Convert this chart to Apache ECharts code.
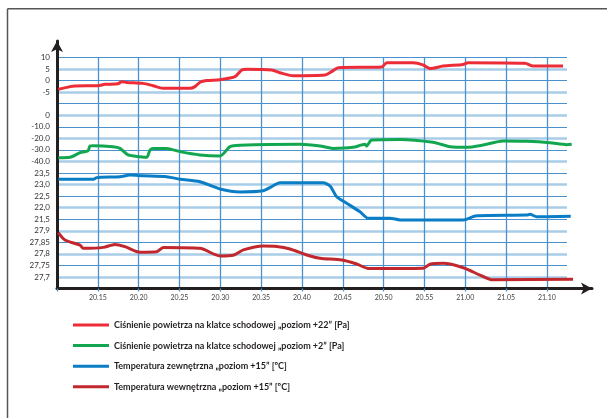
<!DOCTYPE html>
<html>
<head>
<meta charset="utf-8">
<script src="https://cdn.jsdelivr.net/npm/echarts@6/dist/echarts.min.js"></script>
<style>
html,body{margin:0;padding:0;background:#fff;}
#chart{width:607px;height:418px;}
</style>
</head>
<body>
<div id="chart"></div>
<script>
// time in minutes after 20:00
const xTickLabels = ['20.15','20.20','20.25','20.30','20.35','20.40','20.45','20.50','20.55','21.00','21.05','21.10'];

const seriesNames = [
  'Ciśnienie powietrza na klatce schodowej „poziom +22” [Pa]',
  'Ciśnienie powietrza na klatce schodowej „poziom +2” [Pa]',
  'Temperatura zewnętrzna „poziom +15” [ºC]',
  'Temperatura wewnętrzna „poziom +15” [ºC]'
];

const p22Time = [10.16,11.59,12.2,15.02,15.88,17.47,17.92,18.54,20.53,21.76,22.98,26.29,26.9,27.51,28.33,29.96,31.8,32.62,33.23,36.3,37.31,38.9,42.82,43.64,44.45,49.77,50.38,53.6,54.82,55.68,57.28,59.73,60.34,67.32,68.3,71.97];
const p22Val  = [-3.8,-2.6,-2.3,-2.2,-1.6,-1.4,-0.5,-0.8,-1.2,-2.2,-3.3,-3.3,-2.6,-0.7,0.0,0.4,1.7,4.6,4.9,4.6,3.4,2.1,2.4,3.9,5.6,5.9,7.7,7.7,6.8,5.2,6.3,7.0,7.75,7.5,6.3,6.3];

const p2Time = [10.16,11.59,12.82,13.8,14.04,14.45,16.86,17.72,18.7,20.17,20.99,21.39,21.79,23.43,25.06,27.51,29.96,31.19,32.41,39.76,42.21,43.8,46.25,47.72,47.93,48.54,52.01,56.05,58.13,60.18,62.17,64.62,67.53,70.38,72.43,73.04];
const p2Val  = [-36.8,-36.4,-32.4,-30.7,-26.6,-26.3,-27.2,-28.7,-34.4,-35.9,-36.4,-30.1,-28.7,-28.7,-31.5,-34.4,-35.3,-27.2,-26.0,-25.2,-26.6,-28.7,-27.8,-25.2,-26.6,-21.4,-20.9,-23.4,-27.2,-27.8,-25.8,-22.3,-22.6,-23.8,-25.5,-25.2];

const tExtTime = [10.16,14.45,14.86,17.72,18.94,20.53,23.43,25.06,27.51,29.96,32.41,35.23,36.3,37.31,42.58,43.44,44.26,45.48,47.11,48.13,50.78,52.01,59.72,61.4,67.53,67.93,68.75,72.92];
const tExtVal  = [23.23,23.23,23.3,23.34,23.41,23.38,23.34,23.23,23.12,22.81,22.68,22.73,22.91,23.08,23.08,22.94,22.47,22.19,21.82,21.54,21.54,21.47,21.47,21.65,21.68,21.71,21.61,21.63];

const tIntTime = [10.16,10.98,12.82,13.22,15.67,17.1,18.33,20.17,22.21,23.02,27.51,29.96,31.59,32.82,35.27,36.91,38.54,40.58,42.21,44.87,46.71,48.13,52.01,54.86,55.68,57.31,59.76,61.81,63.24,73.2];
const tIntVal  = [27.892,27.86,27.838,27.824,27.828,27.841,27.831,27.807,27.809,27.828,27.824,27.791,27.794,27.817,27.834,27.832,27.821,27.795,27.781,27.773,27.756,27.737,27.737,27.738,27.755,27.759,27.74,27.708,27.688,27.69];

const colors = ['#ec2d37','#13a650','#0a7dc5','#c1272d'];

function zip(a,b){return a.map((t,i)=>[t,b[i]]);}

const X0 = 57;            // y-axis pixel
const PX_PER_MIN = 8.165;
const TOP = 57.5;
const STEP = 11.55;       // px between horizontal grid lines
const FONT = 'Lato, "Open Sans", sans-serif';

function rowY(i){return TOP + i*STEP;}
const dataWidth = (75-10)*PX_PER_MIN;

const chart = echarts.init(document.getElementById('chart'), null, {renderer:'canvas'});

const grids = [
  {left:X0, top:rowY(0), width:510, height:20*STEP},
  {left:X0, top:rowY(1), width:510, height:18*STEP},
  {left:X0, top:rowY(0), width:(70-10)*PX_PER_MIN, height:20*STEP},
  {left:X0, top:41, width:592-X0, height:rowY(20)-41},
  {left:X0, top:rowY(0), width:dataWidth, height:4*STEP},
  {left:X0, top:rowY(5), width:dataWidth, height:4*STEP},
  {left:X0, top:rowY(10), width:dataWidth, height:4*STEP},
  {left:X0, top:rowY(15), width:dataWidth, height:5*STEP}
];

const hiddenX = (gi)=>({type:'value', gridIndex:gi, min:10, max:75, show:false});

const yLabelStyle = {fontSize:8, color:'#333', fontFamily:FONT, margin:7};

const option = {
  animation:false,
  backgroundColor:'#fff',
  grid: grids,
  graphic: [
    {type:'line', shape:{x1:7.5,y1:8.7,x2:607,y2:8.7}, style:{stroke:'#555', lineWidth:1.5}, z:100},
    {type:'line', shape:{x1:7.5,y1:8.7,x2:7.5,y2:418}, style:{stroke:'#555', lineWidth:1.5}, z:100}
  ],
  legend: {
    orient:'vertical', left:68, top:314,
    itemWidth:36, itemHeight:3, itemGap:8.6, icon:'rect',
    textStyle:{fontSize:9, fontWeight:'bold', color:'#231f20', fontFamily:FONT, lineHeight:12},
    data: seriesNames
  },
  xAxis: [
    {type:'value', gridIndex:0, min:0, max:1, show:false},
    {type:'value', gridIndex:1, min:0, max:1, show:false},
    {type:'value', gridIndex:2, min:10, max:70, interval:5,
      axisLine:{show:false},
      axisTick:{show:true, length:3, lineStyle:{color:'#4a92cf', width:1.3}},
      splitLine:{show:true, showMinLine:false, lineStyle:{color:'#4a92cf', width:1.3}},
      axisLabel:{fontSize:7, color:'#444', fontFamily:FONT, margin:6,
        formatter:(v)=>{const i=Math.round((v-15)/5); return (i>=0 && i<xTickLabels.length)?xTickLabels[i]:'';}}
    },
    {type:'value', gridIndex:3, min:0, max:1,
      axisLine:{show:true, symbol:['none','arrow'], symbolSize:[9,11], lineStyle:{color:'#231f20', width:3}},
      axisTick:{show:false}, axisLabel:{show:false}, splitLine:{show:false}
    },
    hiddenX(4), hiddenX(5), hiddenX(6), hiddenX(7)
  ],
  yAxis: [
    {type:'value', gridIndex:0, min:0, max:20, interval:2,
      axisLine:{show:false}, axisTick:{show:false}, axisLabel:{show:false},
      splitLine:{show:true, lineStyle:{color:'#4a92cf', width:1.2}}},
    {type:'value', gridIndex:1, min:0, max:18, interval:2,
      axisLine:{show:false}, axisTick:{show:false}, axisLabel:{show:false},
      splitLine:{show:true, lineStyle:{color:'#a8cde7', width:2.6}}},
    {type:'value', gridIndex:2, min:0, max:1, show:false},
    {type:'value', gridIndex:3, min:0, max:1,
      axisLine:{show:true, symbol:['none','arrow'], symbolSize:[9,11], lineStyle:{color:'#231f20', width:3}},
      axisTick:{show:false}, axisLabel:{show:false}, splitLine:{show:false}},
    {type:'value', gridIndex:4, min:-10, max:10, interval:5,
      axisLine:{show:false}, axisTick:{show:false}, splitLine:{show:false},
      axisLabel:Object.assign({}, yLabelStyle, {formatter:(v)=> v===-10 ? '' : String(v)})},
    {type:'value', gridIndex:5, min:-40, max:0, interval:10,
      axisLine:{show:false}, axisTick:{show:false}, splitLine:{show:false},
      axisLabel:Object.assign({}, yLabelStyle, {formatter:(v)=> v===0 ? '0' : v.toFixed(1)})},
    {type:'value', gridIndex:6, min:21.5, max:23.5, interval:0.5,
      axisLine:{show:false}, axisTick:{show:false}, splitLine:{show:false},
      axisLabel:Object.assign({}, yLabelStyle, {formatter:(v)=> v.toFixed(1).replace('.', ',')})},
    {type:'value', gridIndex:7, min:27.65, max:27.9, interval:0.05,
      axisLine:{show:false}, axisTick:{show:false}, splitLine:{show:false},
      axisLabel:Object.assign({}, yLabelStyle, {formatter:(v)=> (Math.abs(v-27.65)<1e-6) ? '' : String(parseFloat(v.toFixed(2))).replace('.', ',')})}
  ],
  series: [
    {name:seriesNames[0], type:'line', xAxisIndex:4, yAxisIndex:4, data:zip(p22Time,p22Val)},
    {name:seriesNames[1], type:'line', xAxisIndex:5, yAxisIndex:5, data:zip(p2Time,p2Val)},
    {name:seriesNames[2], type:'line', xAxisIndex:6, yAxisIndex:6, data:zip(tExtTime,tExtVal)},
    {name:seriesNames[3], type:'line', xAxisIndex:7, yAxisIndex:7, data:zip(tIntTime,tIntVal)}
  ].map((s,i)=>Object.assign(s,{
    symbol:'none', smooth:0.25, clip:false, z:10,
    color:colors[i],
    lineStyle:{color:colors[i], width:3}
  }))
};

chart.setOption(option);
</script>
</body>
</html>
